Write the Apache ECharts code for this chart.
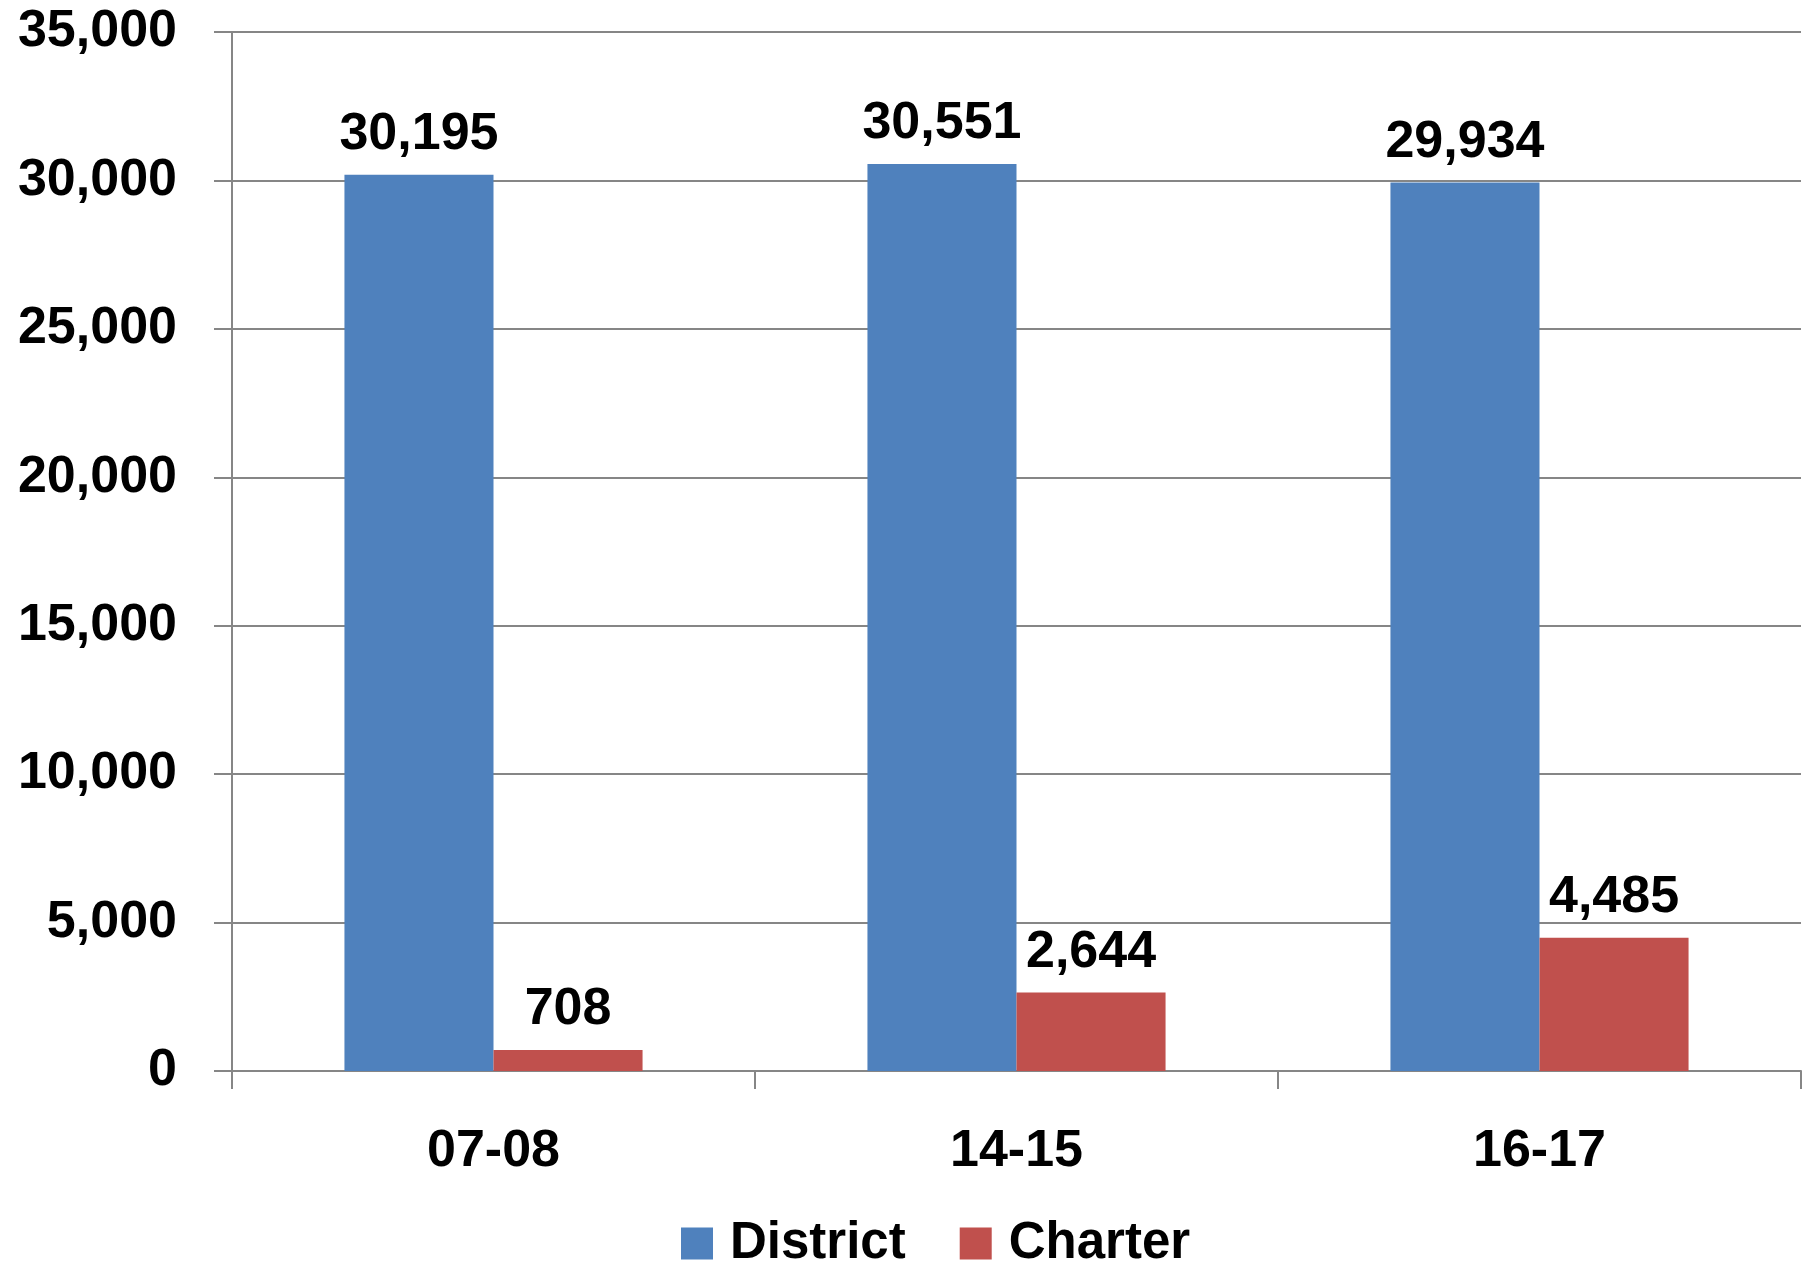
<!DOCTYPE html>
<html>
<head>
<meta charset="utf-8">
<script src="https://cdn.jsdelivr.net/npm/echarts@6/dist/echarts.min.js"></script>
<style>
html,body{margin:0;padding:0;background:#fff;}
#main{width:1810px;height:1266px;}
</style>
</head>
<body>
<div id="main"></div>
<script>
var years = ['07-08', '14-15', '16-17'];
var district = [30195, 30551, 29934];
var charter = [708, 2644, 4485];
var yTicks = [0, 5000, 10000, 15000, 20000, 25000, 30000, 35000];

var chart = echarts.init(document.getElementById('main'));

var fmt = function (v) { return Number(v).toLocaleString('en-US'); };
var txt = {fontFamily: 'Liberation Sans', fontWeight: 'bold', color: '#000', fontSize: 52};

var option = {
    animation: false,
    grid: {left: 232, right: 9, top: 32, bottom: 195},
    legend: {
        bottom: -8,
        left: 676,
        itemWidth: 32,
        itemHeight: 32,
        itemGap: 54,
        icon: 'rect',
        textStyle: Object.assign({}, txt, {fontSize: 51, padding: [0, 0, 0, 12]}),
        data: ['District', 'Charter']
    },
    xAxis: {
        type: 'category',
        data: years,
        axisLine: {lineStyle: {color: '#868686', width: 2}},
        axisTick: {show: true, length: 18, lineStyle: {color: '#868686', width: 2}},
        axisLabel: Object.assign({margin: 55}, txt)
    },
    yAxis: {
        type: 'value',
        min: yTicks[0],
        max: yTicks[yTicks.length - 1],
        interval: 5000,
        axisLine: {show: true, lineStyle: {color: '#868686', width: 2}},
        axisTick: {show: true, length: 18, lineStyle: {color: '#868686', width: 2}},
        splitLine: {lineStyle: {color: '#868686', width: 2}},
        axisLabel: Object.assign({margin: 55, formatter: fmt}, txt)
    },
    series: [
        {
            name: 'District',
            type: 'bar',
            data: district,
            barGap: '0%',
            barCategoryGap: '43%',
            itemStyle: {color: '#4F81BD'},
            label: Object.assign({show: true, position: 'top', distance: 14, formatter: function (p) { return fmt(p.value); }}, txt)
        },
        {
            name: 'Charter',
            type: 'bar',
            data: charter,
            itemStyle: {color: '#C0504D'},
            label: Object.assign({show: true, position: 'top', distance: 14, formatter: function (p) { return fmt(p.value); }}, txt)
        }
    ]
};
chart.setOption(option);
</script>
</body>
</html>
